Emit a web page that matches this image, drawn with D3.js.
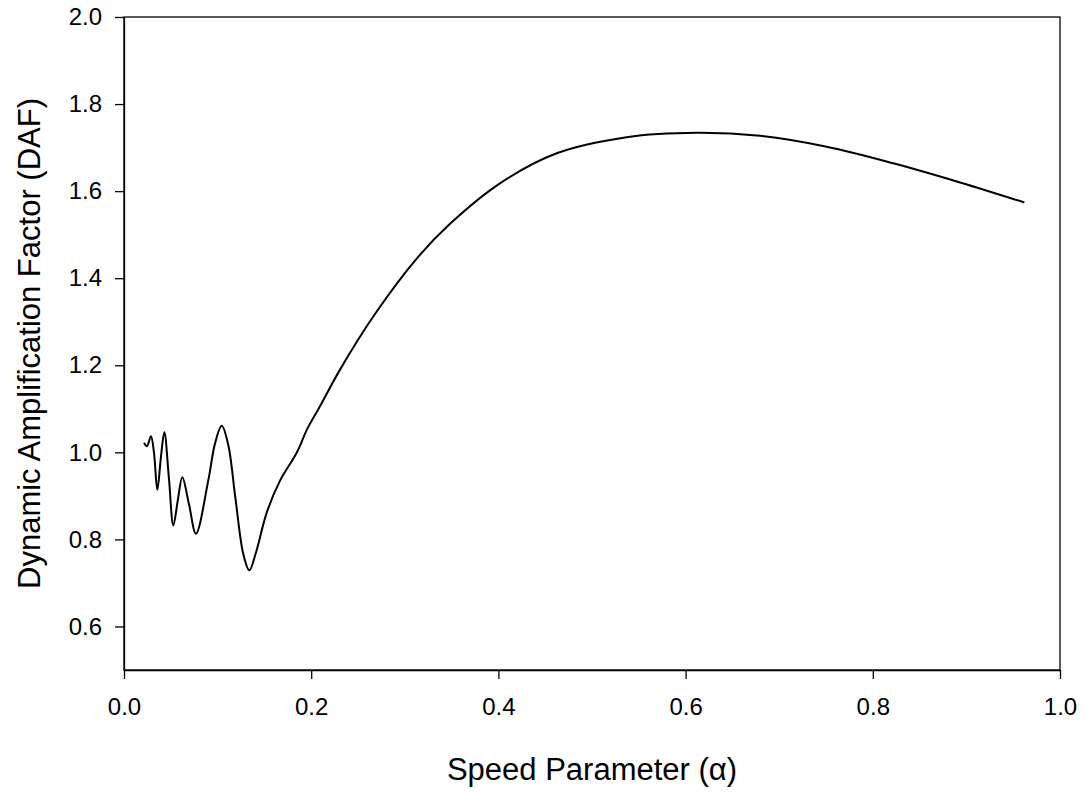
<!DOCTYPE html>
<html>
  <head>
    <meta charset="utf-8">
    <title>Dynamic Amplification Factor</title>
    <script src="https://cdn.jsdelivr.net/npm/d3@7"></script>
    <style>
      body { margin: 0; background: #fff; }
      text { font-family: "Liberation Sans", Arial, sans-serif; fill: #000; }
    </style>
  </head>
  <body>
    <div id="chart"></div>
    <script>
      // data
      var alpha = [0.0214, 0.0245, 0.0288, 0.0320, 0.0356, 0.0395, 0.0431, 0.0480, 0.0527, 0.0575,
        0.0623, 0.0695, 0.0769, 0.0900, 0.0972, 0.1044, 0.1114, 0.1188, 0.1275, 0.1339,
        0.1410, 0.1524, 0.1667, 0.1845, 0.1958, 0.2094, 0.2308, 0.2663, 0.3127,
        0.3483, 0.4017, 0.4623, 0.5370, 0.6118, 0.6795, 0.7507, 0.8219, 0.8932, 0.9619];
      var daf = [1.022, 1.014, 1.037, 1.000, 0.914, 0.990, 1.046, 0.940, 0.832, 0.890,
        0.943, 0.880, 0.813, 0.935, 1.020, 1.061, 1.017, 0.899, 0.766, 0.729,
        0.770, 0.861, 0.935, 0.999, 1.054, 1.106, 1.190, 1.312, 1.445,
        1.525, 1.618, 1.687, 1.724, 1.734, 1.727, 1.702, 1.664, 1.620, 1.574];
      var xTicks = [0, 0.2, 0.4, 0.6, 0.8, 1.0];
      var yTicks = [0.6, 0.8, 1.0, 1.2, 1.4, 1.6, 1.8, 2.0];

      var width = 1087, height = 793;
      var margin = { top: 17, right: 27, bottom: 123, left: 124 };
      var w = width - margin.left - margin.right,
          h = height - margin.top - margin.bottom;

      var svg = d3.select("#chart")
        .append("svg")
          .attr("width", width)
          .attr("height", height);
      var g = svg.append("g")
        .attr("transform", "translate(" + margin.left + "," + margin.top + ")");

      var x = d3.scaleLinear().domain([0, 1]).range([0, w]);
      var y = d3.scaleLinear().domain([0.5, 2.0]).range([h, 0]);

      // frame
      g.append("rect")
        .attr("width", w)
        .attr("height", h)
        .attr("fill", "none")
        .attr("stroke", "#000")
        .attr("stroke-width", 1.3);

      // axes
      var xAxis = g.append("g")
        .attr("transform", "translate(0," + h + ")")
        .call(d3.axisBottom(x).tickValues(xTicks).tickFormat(d3.format(".1f"))
          .tickSize(9).tickSizeOuter(0).tickPadding(19));
      var yAxis = g.append("g")
        .call(d3.axisLeft(y).tickValues(yTicks).tickFormat(d3.format(".1f"))
          .tickSize(9).tickSizeOuter(0).tickPadding(13));
      [xAxis, yAxis].forEach(function(a) {
        a.select(".domain").attr("stroke-width", 1.3);
        a.selectAll(".tick line").attr("stroke-width", 1.3);
        a.selectAll("text").style("font-size", "24px").attr("fill", "#000");
      });

      // curve
      var line = d3.line()
        .x(function(d, i) { return x(alpha[i]); })
        .y(function(d, i) { return y(daf[i]); })
        .curve(d3.curveCatmullRom.alpha(0.5));
      g.append("path")
        .datum(alpha)
        .attr("d", line)
        .attr("fill", "none")
        .attr("stroke", "#000")
        .attr("stroke-width", 2);

      // axis titles
      svg.append("text")
        .attr("x", margin.left + w / 2)
        .attr("y", 780)
        .attr("text-anchor", "middle")
        .style("font-size", "31px")
        .text("Speed Parameter (α)");
      svg.append("text")
        .attr("transform", "translate(40," + (margin.top + h / 2) + ") rotate(-90)")
        .attr("text-anchor", "middle")
        .style("font-size", "31px")
        .text("Dynamic Amplification Factor (DAF)");
    </script>
  </body>
</html>
